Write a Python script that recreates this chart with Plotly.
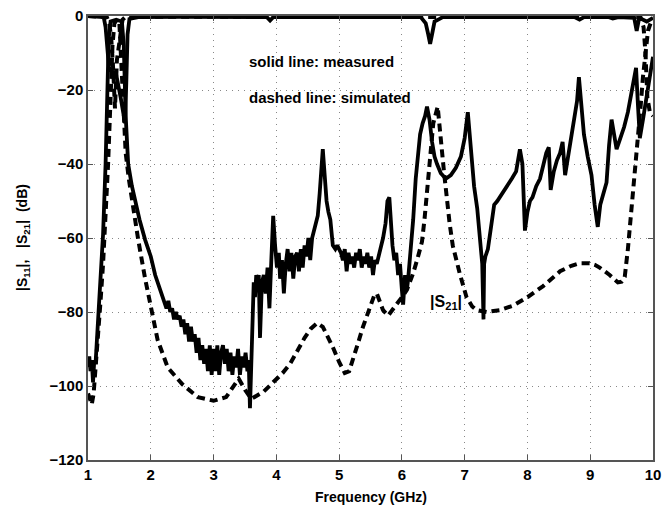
import plotly.graph_objects as go

# ---------------- data ----------------
s21_meas_f = [1.00,1.02,1.04,1.06,1.08,1.10,1.12,1.14,1.16,1.20,1.24,1.28,1.31,1.33,1.36,1.45,1.54,1.57,1.60,1.64,
              1.70,1.75,1.82,1.91,2.00,2.07,2.15,2.20,2.25,2.28,2.31,2.34,2.37,2.40,2.43,2.46,2.49,2.52,2.55,2.58,
              2.61,2.64,2.67,2.70,2.73,2.76,2.79,2.82,2.85,2.88,2.91,2.94,2.97,3.00,3.03,3.06,3.09,3.12,3.15,3.18,
              3.21,3.24,3.27,3.30,3.33,3.36,3.39,3.42,3.45,3.48,3.51,3.54,3.56,3.58,3.60,3.62,3.64,3.66,3.68,3.70,
              3.72,3.74,3.77,3.80,3.83,3.86,3.89,3.92,3.95,3.98,4.01,4.04,4.06,4.09,4.12,4.15,4.18,4.21,4.24,4.27,
              4.30,4.33,4.36,4.39,4.42,4.45,4.48,4.51,4.54,4.57,4.60,4.63,4.66,4.69,4.72,4.74,4.77,4.80,4.83,4.86,
              4.90,4.94,4.97,5.00,5.03,5.06,5.09,5.12,5.15,5.18,5.21,5.24,5.27,5.30,5.33,5.36,5.39,5.42,5.45,5.48,
              5.51,5.54,5.57,5.60,5.63,5.66,5.70,5.74,5.77,5.80,5.82,5.85,5.88,5.91,5.94,5.97,6.00,6.02,6.05,6.08,
              6.10,6.14,6.18,6.22,6.26,6.29,6.33,6.37,6.40,6.44,6.48,6.52,6.56,6.62,6.70,6.78,6.86,6.94,7.00,7.05,
              7.10,7.15,7.20,7.25,7.28,7.30,7.31,7.33,7.37,7.42,7.47,7.52,7.60,7.68,7.75,7.82,7.88,7.92,7.96,8.00,
              8.04,8.08,8.14,8.20,8.26,8.30,8.34,8.37,8.42,8.47,8.52,8.56,8.60,8.65,8.70,8.75,8.79,8.82,8.86,8.90,
              8.96,9.02,9.07,9.12,9.16,9.22,9.26,9.30,9.34,9.38,9.42,9.48,9.54,9.60,9.66,9.70,9.73,9.76,9.79,9.84,
              9.90,9.95,10.0]
s21_meas_db = [-95,-92,-96,-93,-99,-93,-94,-88,-80,-70,-59,-40,-20,-6,-1.5,-1,-1.5,-8,-27,-40,
               -46,-50,-55,-60.5,-65,-70,-74,-76,-79,-77,-80,-79,-82,-80,-82,-81,-84,-82,-86,-83,
               -88,-84,-88,-86,-91,-87,-93,-89,-94,-90,-96,-89,-97,-90,-96,-89,-97,-91,-89,-94,
               -90,-96,-91,-97,-92,-95,-90,-97,-92,-95,-91,-96,-93,-106,-92,-78,-72,-76,-70,-74,
               -70,-87,-72,-70,-75,-68,-79,-66,-54,-62,-68,-64,-71,-66,-75,-67,-63,-69,-64,-71,
               -65,-64,-69,-63,-68,-62,-65,-60,-66,-60,-58,-56,-54,-48,-39,-36,-43,-50,-53,-55,
               -62,-63,-62,-63,-64,-66,-63,-69,-64,-67,-65,-68,-64,-66,-63,-68,-65,-67,-64,-68,
               -65,-70,-66,-67,-65,-63,-60,-56,-50,-49,-55,-62,-66,-64,-70,-67,-74,-78,-70,-74,
               -71,-64,-55,-44,-36,-32,-29,-27,-24.5,-28,-34,-38,-40,-42.5,-44,-43,-41,-38,-33,-26,
               -36,-46,-52,-60,-67,-82,-67,-65,-63,-57,-51,-50,-48,-46,-44,-42,-36,-40,-58,-53,
               -50,-49,-46,-44,-40,-37,-35.5,-47,-42,-39,-37,-34,-43,-38,-33,-28,-23,-16.5,-25,-32,
               -38,-43,-51,-57,-51,-47,-45,-35,-28,-32,-36,-33,-30,-26,-21,-17,-14,-24,-33,-28,
               -22,-17,-11]

s21_sim_f = [1.00,1.03,1.06,1.09,1.12,1.16,1.20,1.24,1.28,1.32,1.36,1.39,1.42,1.46,1.50,1.53,1.56,1.60,1.65,1.70,
             1.80,1.91,2.02,2.11,2.27,2.50,2.75,3.00,3.20,3.30,3.40,3.50,3.60,3.70,3.80,3.95,4.10,4.22,4.35,4.45,
             4.55,4.65,4.74,4.82,4.90,5.00,5.09,5.16,5.22,5.30,5.38,5.49,5.56,5.60,5.64,5.70,5.78,5.85,5.92,6.00,
             6.08,6.18,6.25,6.32,6.36,6.40,6.45,6.50,6.57,6.60,6.63,6.67,6.71,6.76,6.81,6.86,6.92,7.03,7.12,7.19,
             7.35,7.56,7.77,8.00,8.25,8.52,8.70,8.83,8.99,9.08,9.15,9.31,9.44,9.50,9.55,9.60,9.66,9.71,9.76,9.80,
             9.84,9.88,9.92,9.96,10.0]
s21_sim_db = [-102,-103.5,-105,-102,-96,-87.6,-77,-67,-55,-40,-22,-8,-2,-1,-2,-12,-25,-37,-44,-50,
              -60.5,-71,-80,-87.6,-95,-99.5,-103,-104,-103,-100.5,-98,-101,-103.5,-102.5,-101.5,-99,-96.5,-94,-90,-87,
              -84.5,-83,-84,-86.5,-89.5,-93.5,-96.5,-96,-93,-88.5,-84,-78.6,-75.5,-75,-77,-79.5,-81,-79.5,-77.6,-76,
              -74,-69.5,-65.5,-61,-55,-47,-37,-29,-24.5,-29,-35,-42,-49,-56,-62,-66,-69.5,-76,-78.5,-79.5,
              -80,-79.5,-78.3,-76,-73,-69,-67.5,-66.8,-66.8,-67.3,-68,-70,-72,-71.8,-70.5,-63,-52,-43.5,-34,-25,
              -16.5,-9,-4,-2,-1.5]

s11_meas_f = [1.00,1.25,1.28,1.31,1.34,1.37,1.40,1.44,1.48,1.52,1.56,1.59,1.61,1.63,1.66,1.80,2.50,3.85,3.90,3.95,
              6.30,6.38,6.42,6.45,6.48,6.52,6.60,6.65,8.75,8.83,8.90,9.30,9.36,9.45,9.70,9.74,9.78,9.90,10.0]
s11_meas_db = [0,-0.3,-3,-10,-15,-14,-16,-15,-18,-22,-26,-29,-18,-5,-0.8,-0.3,-0.2,-0.3,-1.2,-0.3,
               -0.3,-2,-5,-7.5,-5,-1.5,-0.8,-0.3,-0.3,-1,-0.3,-0.3,-0.7,-0.3,-0.5,-4,-0.5,-1.5,-0.5]

s11_sim_f = [1.00,1.30,1.34,1.37,1.40,1.43,1.46,1.49,1.52,1.55,1.60,9.80,9.85,9.88,9.91,9.95,10.0]
s11_sim_db = [0,-0.3,-2,-6,-14,-25,-12,-8,-4,-1,-0.2,-0.3,-3,-10,-22,-26,-27]

x_ticks = [1, 2, 3, 4, 5, 6, 7, 8, 9, 10]
y_ticks = [0, -20, -40, -60, -80, -100, -120]

# ---------------- figure ----------------
fig = go.Figure()
solid = dict(color="black", width=3.8)
dashed = dict(color="black", width=4, dash="8px,5px")

fig.add_trace(go.Scatter(x=s21_sim_f, y=s21_sim_db, mode="lines", line=dashed, name="S21 sim"))
fig.add_trace(go.Scatter(x=s11_sim_f, y=s11_sim_db, mode="lines", line=dashed, name="S11 sim"))
fig.add_trace(go.Scatter(x=s21_meas_f, y=s21_meas_db, mode="lines", line=solid, name="S21 meas"))
fig.add_trace(go.Scatter(x=s11_meas_f, y=s11_meas_db, mode="lines", line=solid, name="S11 meas"))

FAM = "Liberation Sans, Arial, sans-serif"
font_b = dict(family=FAM, size=15, color="black", weight="bold")
font_t = dict(family=FAM, size=14, color="black", weight="bold")

axis_common = dict(
    showgrid=True, gridcolor="#888", griddash="1px,5px", gridwidth=1,
    showline=True, linecolor="#555", linewidth=1.5, mirror="ticks",
    ticks="inside", ticklen=5, tickcolor="#555", zeroline=False,
    tickfont=font_b, automargin=False, ticklabeloverflow="allow",
)

fig.update_layout(
    width=663, height=510,
    margin=dict(l=88, r=10, t=16, b=50),
    paper_bgcolor="white", plot_bgcolor="white",
    showlegend=False,
    font=font_b,
    xaxis=dict(range=[1, 10], tickvals=x_ticks, ticktext=[str(v) for v in x_ticks], **axis_common),
    yaxis=dict(range=[-120, 0], tickvals=y_ticks,
               ticktext=[("−" + str(-v)) if v < 0 else str(v) for v in y_ticks], **axis_common),
    annotations=[
        dict(x=0.5, y=-0.083, xref="paper", yref="paper", text="Frequency (GHz)", showarrow=False,
             xanchor="center", yanchor="middle", font=font_t),
        dict(x=-0.115, y=0.5, xref="paper", yref="paper", text="|S<sub>11</sub>|,   |S<sub>21</sub>|  (dB)",
             showarrow=False, textangle=-90, xanchor="center", yanchor="middle", font=font_t),
        dict(x=3.53, y=-12.2, xref="x", yref="y", text="solid line: measured", showarrow=False,
             xanchor="left", yanchor="middle", font=font_b),
        dict(x=3.53, y=-21.9, xref="x", yref="y", text="dashed line: simulated", showarrow=False,
             xanchor="left", yanchor="middle", font=font_b),
        dict(x=6.41, y=-77.5, xref="x", yref="y", text="|S<sub>21</sub>|", showarrow=False,
             xanchor="left", yanchor="middle", font=dict(family=FAM, size=16, color="black", weight="bold")),
    ],
)

# remove the browser's default 8px body margin (and scrollbars) so the figure fills the 663x510 window
fig.write_html("out.html",
               config={"displayModeBar": False},
               post_script="document.body.style.margin='0px';document.body.style.overflow='hidden';"
                           "document.documentElement.style.overflow='hidden';")
